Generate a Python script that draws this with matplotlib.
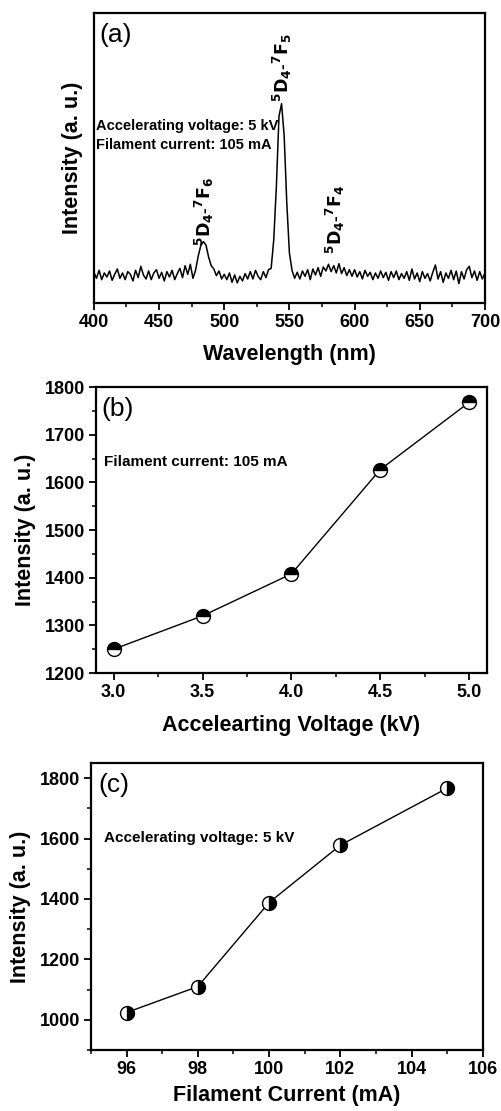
import numpy as np
import matplotlib.pyplot as plt
from matplotlib.ticker import MultipleLocator

plt.rcParams['font.family'] = ['Liberation Sans', 'DejaVu Sans']
plt.rcParams['font.weight'] = 'bold'
plt.rcParams['axes.labelweight'] = 'bold'
plt.rcParams['axes.linewidth'] = 1.6
plt.rcParams['xtick.direction'] = 'out'
plt.rcParams['ytick.direction'] = 'out'

# (a) CL spectrum, 2 nm steps from 400 to 700 nm (arb. units)
wavelength = np.arange(400, 701, 2)
spectrum = [
    92, 74, 98, 70, 90, 78, 96, 68, 86, 102,
    74, 90, 70, 94, 86, 66, 98, 76, 110, 84,
    72, 96, 70, 90, 100, 74, 92, 66, 94, 78,
    98, 70, 88, 104, 76, 112, 86, 116, 74, 98,
    140, 172, 184, 174, 138, 112, 102, 82, 96, 72,
    86, 70, 90, 62, 84, 60, 80, 66, 88, 72,
    94, 72, 98, 80, 70, 94, 76, 100, 104, 190,
    350, 560, 598, 500, 300, 150, 98, 74, 92, 72,
    96, 80, 100, 70, 102, 84, 106, 80, 108, 96,
    116, 94, 112, 90, 118, 88, 106, 82, 100, 80,
    100, 78, 94, 72, 98, 80, 92, 70, 90, 74,
    96, 76, 92, 68, 94, 76, 96, 70, 88, 74,
    94, 68, 102, 72, 90, 64, 94, 74, 88, 66,
    92, 114, 72, 94, 62, 90, 74, 98, 70, 96,
    58, 94, 72, 100, 110, 76, 96, 68, 94, 72,
    90,
]

# (b) intensity vs accelerating voltage
voltage = [3.0, 3.5, 4.0, 4.5, 5.0]
int_voltage = [1250, 1320, 1408, 1627, 1768]

# (c) intensity vs filament current
current = [96, 98, 100, 102, 105]
int_current = [1024, 1110, 1388, 1578, 1767]

fig = plt.figure(figsize=(5.02, 11.11), dpi=100)
ax1 = fig.add_axes([0.187, 0.7273, 0.779, 0.261])
ax2 = fig.add_axes([0.191, 0.3942, 0.779, 0.2574])
ax3 = fig.add_axes([0.181, 0.0549, 0.781, 0.2583])

for ax in (ax1, ax2, ax3):
    ax.tick_params(which='major', length=5, width=1.3, labelsize=13, pad=3)
    ax.tick_params(which='minor', length=3, width=1.1)
    ax.tick_params(top=False, right=False)

# spectrum
ax1.plot(wavelength, spectrum, color='black', lw=1.1)
ax1.set_xlim(400, 700)
ax1.set_ylim(0, 870)
ax1.xaxis.set_major_locator(MultipleLocator(50))
ax1.xaxis.set_minor_locator(MultipleLocator(25))
ax1.set_yticks([])
ax1.set_xlabel('Wavelength (nm)', fontsize=15.5, labelpad=9)
ax1.set_ylabel('Intensity (a. u.)', fontsize=15.5, labelpad=8)
ax1.text(0.013, 0.924, '(a)', transform=ax1.transAxes, fontsize=19,
         fontweight='normal', va='center', ha='left')
ax1.text(402, 530, 'Accelerating voltage: 5 kV', fontsize=10.5, va='center')
ax1.text(402, 475, 'Filament current: 105 mA', fontsize=10.5, va='center')
peak_labels = [
    (485, 170, r'$\mathbf{^{5}D_{4}}$-$\mathbf{^{7}F_{6}}$'),
    (545, 602, r'$\mathbf{^{5}D_{4}}$-$\mathbf{^{7}F_{5}}$'),
    (585, 148, r'$\mathbf{^{5}D_{4}}$-$\mathbf{^{7}F_{4}}$'),
]
for x, y, s in peak_labels:
    ax1.text(x, y, s, rotation=90, fontsize=12.5, ha='center', va='bottom')

# voltage series
ax2.plot(voltage, int_voltage, color='black', lw=1.0, marker='o', ms=10,
         fillstyle='top', markerfacecolor='black', markerfacecoloralt='white',
         markeredgecolor='black', markeredgewidth=1.0)
ax2.set_xlim(2.9, 5.1)
ax2.set_ylim(1200, 1800)
ax2.xaxis.set_major_locator(MultipleLocator(0.5))
ax2.xaxis.set_minor_locator(MultipleLocator(0.25))
ax2.yaxis.set_major_locator(MultipleLocator(100))
ax2.yaxis.set_minor_locator(MultipleLocator(50))
ax2.xaxis.set_major_formatter('{x:.1f}')
ax2.set_xlabel('Accelearting Voltage (kV)', fontsize=15.5, labelpad=10)
ax2.set_ylabel('Intensity (a. u.)', fontsize=15.5, labelpad=6)
ax2.text(0.015, 0.923, '(b)', transform=ax2.transAxes, fontsize=19,
         fontweight='normal', va='center', ha='left')
ax2.text(0.02, 0.738, 'Filament current: 105 mA', transform=ax2.transAxes,
         fontsize=11, va='center')

# filament current series
ax3.plot(current, int_current, color='black', lw=1.0, marker='o', ms=10,
         fillstyle='right', markerfacecolor='black', markerfacecoloralt='white',
         markeredgecolor='black', markeredgewidth=1.0)
ax3.set_xlim(95, 106)
ax3.set_ylim(900, 1850)
ax3.xaxis.set_major_locator(MultipleLocator(2))
ax3.xaxis.set_minor_locator(MultipleLocator(1))
ax3.yaxis.set_major_locator(MultipleLocator(200))
ax3.yaxis.set_minor_locator(MultipleLocator(100))
ax3.set_xlabel('Filament Current (mA)', fontsize=15.5, labelpad=5)
ax3.set_ylabel('Intensity (a. u.)', fontsize=15.5, labelpad=6)
ax3.text(0.02, 0.923, '(c)', transform=ax3.transAxes, fontsize=19,
         fontweight='normal', va='center', ha='left')
ax3.text(0.033, 0.739, 'Accelerating voltage: 5 kV', transform=ax3.transAxes,
         fontsize=11, va='center')

fig.savefig('out.png', dpi=100)
